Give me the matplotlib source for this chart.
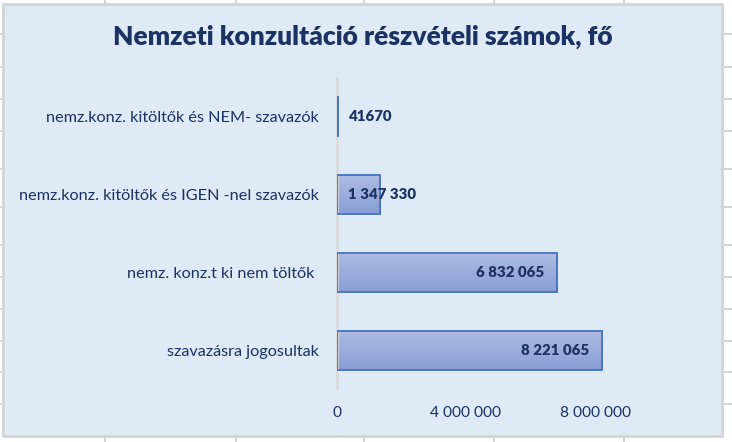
import numpy as np
import matplotlib
matplotlib.use("Agg")
from matplotlib import pyplot as plt
from matplotlib.lines import Line2D
from matplotlib.patches import Rectangle
from matplotlib.ticker import FixedLocator, FuncFormatter

plt.rcParams['font.family'] = ['Lato', 'DejaVu Sans']

# data, top to bottom as in the chart
categories = ['nemz.konz. kitöltők és NEM- szavazók',
              'nemz.konz. kitöltők és IGEN -nel szavazók',
              'nemz. konz.t ki nem töltők ',
              'szavazásra jogosultak']
values = [41670, 1347330, 6832065, 8221065]
value_labels = ['41670', '1 347 330', '6 832 065', '8 221 065']
x_ticks = [0, 4000000, 8000000]

title = 'Nemzeti konzultáció részvételi számok, fő'

navy = '#1B3263'
chart_bg = '#DEEAF6'
grid_grey = '#D4D4D4'
W, H = 732, 442

fig = plt.figure(figsize=(W / 100, H / 100), dpi=100)
fig.patch.set_facecolor('white')

def fx(px):
    return px / W

def fy(py):
    return 1 - py / H

# spreadsheet cells behind the chart
row_lines = [34, 67, 99, 131, 169, 207, 245, 277, 309, 341, 372, 404]
col_lines = [105, 236, 364, 494, 624]
for r in row_lines:
    fig.add_artist(Line2D([0, 1], [fy(r), fy(r)], transform=fig.transFigure,
                          color=grid_grey, lw=1.4, zorder=0))
for c in col_lines:
    fig.add_artist(Line2D([fx(c), fx(c)], [0, 1], transform=fig.transFigure,
                          color=grid_grey, lw=1.4, zorder=0))

# chart area
fig.add_artist(Rectangle((fx(3), fy(436)), fx(722) - fx(3), fy(4) - fy(436),
                         transform=fig.transFigure, facecolor=chart_bg,
                         edgecolor=grid_grey, lw=2, zorder=1))

px_per_4m = 129.0
x0_px, x1_px = 337, 722
xmax = (x1_px - x0_px) / px_per_4m * 4000000

ax = fig.add_axes([fx(x0_px), fy(389), fx(x1_px) - fx(x0_px), fy(78) - fy(389)])
ax.set_zorder(2)
ax.patch.set_alpha(0)

ypos = np.arange(len(categories))[::-1]
bar_h = 0.5
top_c = np.array([0xAD, 0xBC, 0xE3]) / 255
bot_c = np.array([0x88, 0x9E, 0xD5]) / 255
grad = np.linspace(0, 1, 64)[:, None, None]
grad_img = top_c * (1 - grad) + bot_c * grad

for y, v in zip(ypos, values):
    ax.imshow(grad_img, extent=(0, v, y - bar_h / 2, y + bar_h / 2),
              aspect='auto', origin='upper', zorder=2, interpolation='bilinear')
ax.barh(ypos, values, height=bar_h, facecolor='none', edgecolor='#4472C4',
        linewidth=1.3, zorder=3)

for y, v, lab in zip(ypos, values, value_labels):
    if v > 3000000:
        ax.annotate(lab, (v, y), xytext=(-9.5, 0), textcoords='offset points',
                    ha='right', va='center', fontsize=10.8, fontweight='heavy',
                    color=navy, zorder=4)
    else:
        ax.annotate(lab, (0, y), xytext=(8, 0), textcoords='offset points',
                    ha='left', va='center', fontsize=10.8, fontweight='heavy',
                    color=navy, zorder=4)

ax.set_xlim(0, xmax)
ax.set_ylim(-0.5, len(categories) - 0.5)
ax.set_yticks(ypos)
ax.set_yticklabels(categories, fontsize=11.7, color=navy)
ax.xaxis.set_major_locator(FixedLocator(x_ticks))
ax.xaxis.set_major_formatter(FuncFormatter(lambda v, p: f'{int(v):,}'.replace(',', ' ')))
ax.tick_params(axis='x', length=0, labelsize=11.2, labelcolor=navy, pad=12)
ax.tick_params(axis='y', length=0, pad=13)
for s in ['top', 'right', 'bottom']:
    ax.spines[s].set_visible(False)
ax.spines['left'].set_color('#D9D9D9')
ax.spines['left'].set_linewidth(1.8)

fig.text(fx(363), fy(37), title, ha='center', va='center', fontsize=19,
         fontweight='heavy', color=navy, zorder=3)

fig.savefig('out.png', dpi=100)
